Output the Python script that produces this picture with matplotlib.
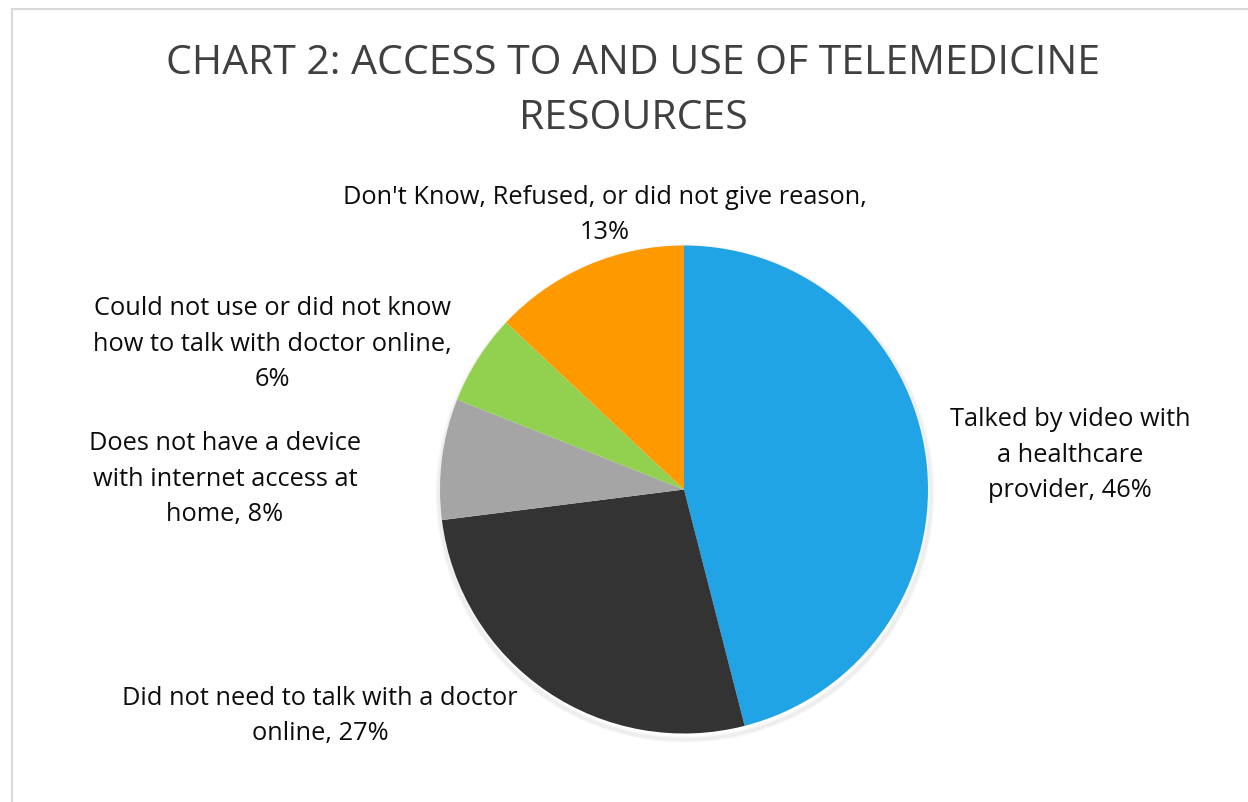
import matplotlib.pyplot as plt
from matplotlib.patches import Rectangle, Circle

plt.rcParams['font.family'] = ['Open Sans', 'DejaVu Sans']

title = "CHART 2: ACCESS TO AND USE OF TELEMEDICINE\nRESOURCES"
categories = ["Talked by video with\na healthcare\nprovider",
              "Did not need to talk with a doctor\nonline",
              "Does not have a device\nwith internet access at\nhome",
              "Could not use or did not know\nhow to talk with doctor online,\n",
              "Don't Know, Refused, or did not give reason,\n"]
values = [46, 27, 8, 6, 13]
colors = ["#21A4E6", "#333333", "#A5A5A5", "#92D050", "#FF9900"]

# label anchor positions (pixels from top-left, centre of text block)
label_pos = [(1070, 455), (320, 716), (225, 479), (272, 344), (605, 215)]

W, H = 1248, 802
fig = plt.figure(figsize=(W / 100, H / 100), dpi=100)
ax = fig.add_axes([0, 0, 1, 1])

# chart frame
ax.add_patch(Rectangle((12, -10), W, H - 9 + 10, fill=False,
                       edgecolor='#D9D9D9', linewidth=1.5))

cx, cy, r = 684, H - 489.5, 244

# soft shadow below the pie
for i in range(6):
    ax.add_patch(Circle((cx + 1, cy - 4), r + i * 0.8, facecolor='none',
                        edgecolor='black', alpha=0.018, linewidth=2, zorder=1))

ax.pie(values, colors=colors, startangle=90, counterclock=False,
       center=(cx, cy), radius=r, frame=True,
       wedgeprops=dict(linewidth=0, zorder=2))
ax.set_xlim(0, W)
ax.set_ylim(0, H)
ax.set_aspect('equal')
ax.axis('off')

for cat, v, (x, y) in zip(categories, values, label_pos):
    if cat.endswith("\n"):
        txt = cat + f"{v}%"
    else:
        txt = cat + f", {v}%"
    ax.text(x, H - y, txt, ha='center', va='center', fontsize=18.3,
            color='#0D0D0D', linespacing=1.56, multialignment='center')

ax.text(633, H - 91, title, ha='center', va='center', fontsize=29.5,
        color='#404040', linespacing=1.49)

fig.savefig('out.png', dpi=100)
